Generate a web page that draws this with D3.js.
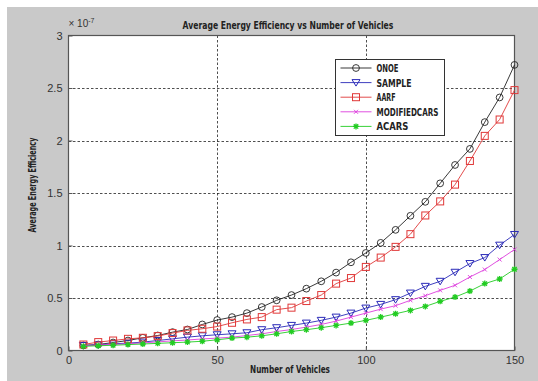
<!DOCTYPE html>
<html>
<head>
<meta charset="utf-8">
<script src="https://cdn.jsdelivr.net/npm/d3@7"></script>
<style>
  body { margin: 0; background: #fff; }
  svg { display: block; }
</style>
</head>
<body>
<svg id="chart"></svg>
<script>
// number of vehicles (x) and efficiency values (units of 1e-7)
const vehicles = d3.range(5, 151, 5);

const onoe = [0.048, 0.057, 0.076, 0.095, 0.121, 0.143, 0.175, 0.200, 0.248, 0.290,
              0.318, 0.356, 0.414, 0.478, 0.528, 0.589, 0.659, 0.742, 0.840, 0.929,
              1.025, 1.149, 1.283, 1.416, 1.592, 1.767, 1.920, 2.175, 2.410, 2.720];
const sample = [0.048, 0.054, 0.064, 0.070, 0.080, 0.095, 0.111, 0.127, 0.140, 0.150,
                0.159, 0.169, 0.198, 0.217, 0.239, 0.261, 0.287, 0.318, 0.356, 0.404,
                0.439, 0.484, 0.547, 0.611, 0.659, 0.745, 0.828, 0.885, 1.003, 1.105];
const aarf = [0.057, 0.080, 0.095, 0.111, 0.121, 0.137, 0.166, 0.191, 0.207, 0.228,
              0.264, 0.296, 0.318, 0.389, 0.408, 0.471, 0.528, 0.637, 0.690, 0.796,
              0.885, 0.987, 1.108, 1.286, 1.420, 1.580, 1.805, 2.044, 2.200, 2.480];
const modifiedcars = [0.045, 0.052, 0.058, 0.064, 0.072, 0.082, 0.092, 0.100, 0.110, 0.118,
                      0.127, 0.143, 0.159, 0.181, 0.200, 0.223, 0.248, 0.280, 0.318, 0.356,
                      0.394, 0.427, 0.478, 0.522, 0.573, 0.621, 0.700, 0.771, 0.866, 0.962];
const acars = [0.040, 0.045, 0.050, 0.056, 0.062, 0.068, 0.074, 0.080, 0.088, 0.102,
               0.118, 0.127, 0.140, 0.159, 0.181, 0.198, 0.217, 0.239, 0.261, 0.287,
               0.318, 0.350, 0.382, 0.420, 0.468, 0.509, 0.566, 0.637, 0.681, 0.774];

const xTicks = [0, 50, 100, 150];
const yTicks = [0, 0.5, 1, 1.5, 2, 2.5, 3];
const seriesNames = ["ONOE", "SAMPLE", "AARF", "MODIFIEDCARS", "ACARS"];

const width = 538, height = 381;
const pLeft = 68.5, pRight = 514.5, pTop = 35.5, pBottom = 350.5;

const svg = d3.select("#chart").attr("width", width).attr("height", height);

// grey figure background
svg.append("rect").attr("x", 7).attr("y", 7)
    .attr("width", width - 7).attr("height", height - 7)
    .attr("fill", "#c9c9c9");

const x = d3.scaleLinear().domain([0, 150]).range([pLeft, pRight]);
const y = d3.scaleLinear().domain([0, 3]).range([pBottom, pTop]);

// plot area
svg.append("rect").attr("x", pLeft).attr("y", pTop)
    .attr("width", pRight - pLeft).attr("height", pBottom - pTop)
    .attr("fill", "#fff");

// grid
const grid = svg.append("g").attr("stroke", "#222").attr("stroke-width", 0.8)
    .attr("stroke-dasharray", "2.5,2");
grid.selectAll(".gx").data([50, 100]).enter().append("line")
    .attr("x1", d => Math.round(x(d)) + 0.5).attr("x2", d => Math.round(x(d)) + 0.5)
    .attr("y1", pTop).attr("y2", pBottom);
grid.selectAll(".gy").data([0.5, 1, 1.5, 2, 2.5]).enter().append("line")
    .attr("y1", d => Math.round(y(d)) + 0.5).attr("y2", d => Math.round(y(d)) + 0.5)
    .attr("x1", pLeft).attr("x2", pRight);

// frame
svg.append("rect").attr("x", pLeft).attr("y", pTop)
    .attr("width", pRight - pLeft).attr("height", pBottom - pTop)
    .attr("fill", "none").attr("stroke", "#555").attr("stroke-width", 1.2);

// axes (ticks point inward like MATLAB)
const tickFont = "Liberation Sans, Arial, sans-serif";
const xAxis = svg.append("g").attr("transform", `translate(0,${pBottom})`)
    .call(d3.axisBottom(x).tickValues(xTicks).tickSize(-4).tickPadding(7).tickFormat(d3.format("d")));
const yAxis = svg.append("g").attr("transform", `translate(${pLeft},0)`)
    .call(d3.axisLeft(y).tickValues(yTicks).tickSize(-4).tickPadding(6).tickFormat(d => d));
[xAxis, yAxis].forEach(a => {
    a.select(".domain").remove();
    a.selectAll("line").attr("stroke", "#555");
    a.selectAll("text").attr("fill", "#333").style("font-family", tickFont).style("font-size", "11px");
});
yAxis.selectAll("text").attr("dy", "0.32em");
xAxis.selectAll("text").attr("dy", "0.55em");

// exponent label
const expo = svg.append("text").attr("x", pLeft).attr("y", 27)
    .attr("fill", "#333").style("font-family", tickFont).style("font-size", "10px");
expo.append("tspan").text("\u00d7 10");
expo.append("tspan").attr("dy", -4).style("font-size", "7px").text("-7");

// bold labels squeezed horizontally to the narrow face of the reference
function label(parent, lx, ly, len, txt, anchor, rot) {
    const g = parent.append("g");
    const t = g.append("text").attr("text-anchor", anchor)
        .style("font-family", "'DejaVu Sans', sans-serif").style("font-weight", "bold")
        .style("font-size", "11px").attr("fill", "#222").text(txt);
    const k = len / t.node().getComputedTextLength();
    g.attr("transform", `translate(${lx},${ly})` + (rot ? ` rotate(${rot})` : "") + ` scale(${k},1)`);
    return g;
}
label(svg, 288, 29, 211, "Average Energy Efficiency vs Number of Vehicles", "middle");
label(svg, 290, 373, 80, "Number of Vehicles", "middle");
label(svg, 36, 185, 95, "Average Energy Efficiency", "middle", -90);

// series
const series = [
    { name: seriesNames[0], values: onoe, color: "#222", marker: "circle", len: 22 },
    { name: seriesNames[1], values: sample, color: "#2a2ab8", marker: "triangle", len: 35 },
    { name: seriesNames[2], values: aarf, color: "#e03838", marker: "square", len: 19 },
    { name: seriesNames[3], values: modifiedcars, color: "#dd3ddd", marker: "cross", len: 62 },
    { name: seriesNames[4], values: acars, color: "#22cc22", marker: "star", len: 32 }
];

const line = d3.line().x((d, i) => x(vehicles[i])).y(d => y(d));

function drawMarker(g, type, color) {
    if (type === "circle") {
        g.append("circle").attr("r", 3.4).attr("fill", "none").attr("stroke", color).attr("stroke-width", 0.9);
    } else if (type === "triangle") {
        g.append("path").attr("d", "M-4,-3L4,-3L0,3.5Z").attr("fill", "none").attr("stroke", color).attr("stroke-width", 1);
    } else if (type === "square") {
        g.append("rect").attr("x", -3.5).attr("y", -3.5).attr("width", 7).attr("height", 7)
            .attr("fill", "none").attr("stroke", color).attr("stroke-width", 1);
    } else if (type === "cross") {
        g.append("path").attr("d", "M-2,-2L2,2M-2,2L2,-2").attr("stroke", color).attr("stroke-width", 0.9);
    } else if (type === "star") {
        g.append("path").attr("d", "M-3,0L3,0M0,-3L0,3M-2.2,-2.2L2.2,2.2M-2.2,2.2L2.2,-2.2")
            .attr("stroke", color).attr("stroke-width", 1.3);
    }
}

const plot = svg.append("g");
series.forEach(s => {
    plot.append("path").datum(s.values).attr("d", line)
        .attr("fill", "none").attr("stroke", s.color).attr("stroke-width", 0.9);
    s.values.forEach((v, i) => {
        const g = plot.append("g").attr("transform", `translate(${x(vehicles[i])},${y(v)})`);
        drawMarker(g, s.marker, s.color);
    });
});

// legend
const legend = svg.append("g").attr("transform", "translate(335.5,59.5)");
legend.append("rect").attr("width", 109).attr("height", 76)
    .attr("fill", "#fff").attr("stroke", "#333").attr("stroke-width", 1);
series.forEach((s, i) => {
    const ly = 8.5 + i * 14.6;
    legend.append("line").attr("x1", 5).attr("x2", 36).attr("y1", ly).attr("y2", ly)
        .attr("stroke", s.color).attr("stroke-width", 0.9);
    const g = legend.append("g").attr("transform", `translate(20.5,${ly})`);
    drawMarker(g, s.marker, s.color);
    label(legend, 41, ly + 4, s.len, s.name, "start");
});
</script>
</body>
</html>
